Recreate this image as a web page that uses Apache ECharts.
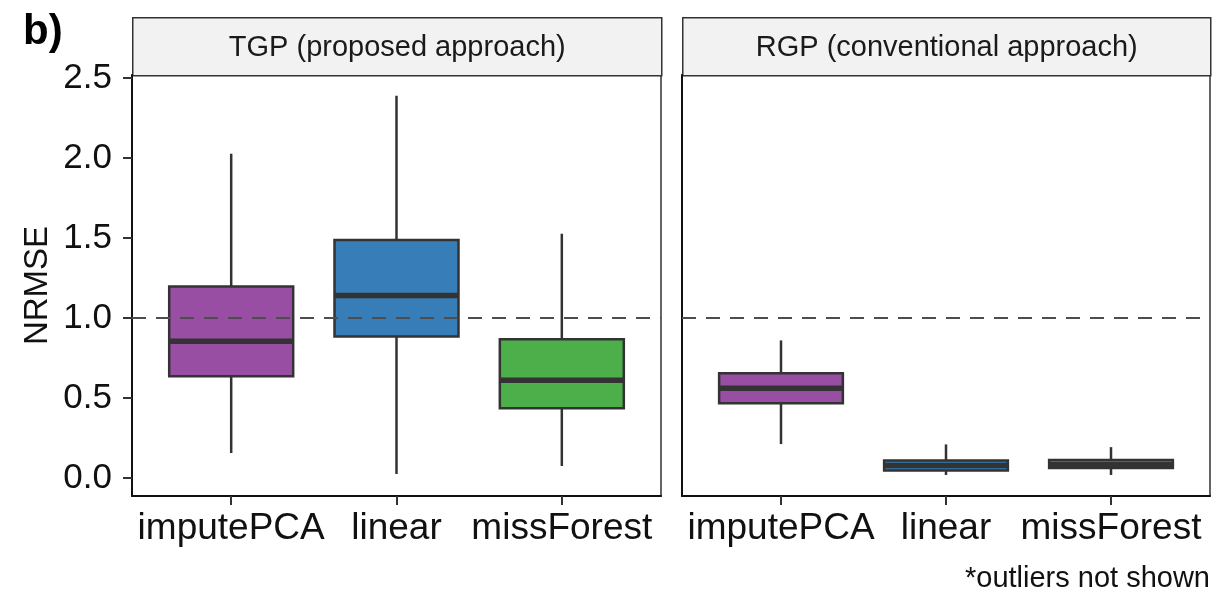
<!DOCTYPE html>
<html>
<head>
<meta charset="utf-8">
<script src="https://cdn.jsdelivr.net/npm/echarts@6/dist/echarts.min.js"></script>
<style>html,body{margin:0;padding:0;background:#fff;}#c{width:1212px;height:592px;}</style>
</head>
<body>
<div id="c"></div>
<script>
const categories = ['imputePCA', 'linear', 'missForest'];
const panelTitles = ['TGP (proposed approach)', 'RGP (conventional approach)'];
const yTicks = [0, 0.5, 1.0, 1.5, 2.0, 2.5];
const referenceLine = 1.0;
const boxColors = ['#984EA3', '#377EB8', '#4DAF4A'];

// TGP panel: whisker low, Q1, median, Q3, whisker high
const tgpLow    = [0.156, 0.025, 0.075];
const tgpQ1     = [0.636, 0.885, 0.436];
const tgpMedian = [0.854, 1.140, 0.611];
const tgpQ3     = [1.197, 1.487, 0.867];
const tgpHigh   = [2.026, 2.390, 1.527];

// RGP panel
const rgpLow    = [0.212, 0.019, 0.019];
const rgpQ1     = [0.468, 0.047, 0.062];
const rgpMedian = [0.561, 0.078, 0.084];
const rgpQ3     = [0.655, 0.109, 0.112];
const rgpHigh   = [0.860, 0.210, 0.193];

function buildData(low, q1, med, q3, high) {
  return categories.map((c, i) => [i + 1, low[i], q1[i], med[i], q3[i], high[i], i]);
}

function renderBox(params, api) {
  const x = api.value(0);
  const pLow = api.coord([x, api.value(1)]);
  const pQ1 = api.coord([x, api.value(2)]);
  const pMed = api.coord([x, api.value(3)]);
  const pQ3 = api.coord([x, api.value(4)]);
  const pHigh = api.coord([x, api.value(5)]);
  const halfW = api.size([0.75, 0])[0] / 2;
  const color = boxColors[api.value(6)];
  const edge = '#333333';
  return {
    type: 'group',
    children: [
      { type: 'line', shape: { x1: pLow[0], y1: pLow[1], x2: pHigh[0], y2: pHigh[1] },
        style: { stroke: edge, lineWidth: 2.5 } },
      { type: 'rect', shape: { x: pQ3[0] - halfW, y: pQ3[1], width: 2 * halfW, height: pQ1[1] - pQ3[1] },
        style: { fill: color, stroke: edge, lineWidth: 2.5 } },
      { type: 'line', shape: { x1: pMed[0] - halfW, y1: pMed[1], x2: pMed[0] + halfW, y2: pMed[1] },
        style: { stroke: edge, lineWidth: 5.5 } }
    ]
  };
}

const textColor = '#111111';
const fontFam = 'Liberation Sans, Arial, sans-serif';

function xAxisCfg(gi) {
  return {
    type: 'value', gridIndex: gi, min: 0.4, max: 3.6,
    splitLine: { show: false },
    axisLine: { show: true, onZero: false, lineStyle: { color: '#111', width: 2 } },
    axisTick: { show: true, customValues: [1, 2, 3], length: 9, lineStyle: { color: '#333', width: 2 } },
    axisLabel: { show: true, customValues: [1, 2, 3], formatter: v => categories[Math.round(v) - 1],
      fontSize: 37, color: textColor, fontFamily: fontFam, margin: 14 }
  };
}
function yAxisCfg(gi, labels) {
  const cfg = {
    type: 'value', gridIndex: gi, min: -0.1125, max: 2.519,
    splitLine: { show: false },
    axisLine: { show: true, onZero: false, lineStyle: { color: '#111', width: 2 } },
    axisTick: { show: labels, customValues: yTicks, length: 9, lineStyle: { color: '#333', width: 2 } },
    axisLabel: { show: labels, customValues: yTicks, formatter: v => v.toFixed(1),
      fontSize: 35, color: textColor, fontFamily: fontFam, margin: 20 }
  };
  if (labels) {
    cfg.name = 'NRMSE';
    cfg.nameLocation = 'middle';
    cfg.nameGap = 78;
    cfg.nameTextStyle = { fontSize: 33, color: textColor, fontFamily: fontFam };
  }
  return cfg;
}

function markLineCfg() {
  return {
    silent: true, symbol: 'none', label: { show: false },
    lineStyle: { color: '#4d4d4d', width: 2, type: [14, 10] },
    data: [{ yAxis: referenceLine }]
  };
}

const grids = [
  { left: 132, top: 75, width: 529, height: 421 },
  { left: 682, top: 75, width: 528, height: 421 }
];

const option = {
  animation: false,
  backgroundColor: '#ffffff',
  grid: grids.map(g => Object.assign({ show: true, borderColor: '#333', borderWidth: 1.5, backgroundColor: '#fff' }, g)),
  xAxis: [xAxisCfg(0), xAxisCfg(1)],
  yAxis: [yAxisCfg(0, true), yAxisCfg(1, false)],
  series: [
    { type: 'custom', xAxisIndex: 0, yAxisIndex: 0, renderItem: renderBox,
      data: buildData(tgpLow, tgpQ1, tgpMedian, tgpQ3, tgpHigh), markLine: markLineCfg(), z: 2 },
    { type: 'custom', xAxisIndex: 1, yAxisIndex: 1, renderItem: renderBox,
      data: buildData(rgpLow, rgpQ1, rgpMedian, rgpQ3, rgpHigh), markLine: markLineCfg(), z: 2 }
  ],
  graphic: [
    ...grids.map((g, i) => ({
      type: 'group', left: g.left, top: 17,
      children: [
        { type: 'rect', shape: { x: 0, y: 0, width: g.width, height: 58 },
          style: { fill: '#f2f2f2', stroke: '#333', lineWidth: 1.5 } },
        { type: 'text', x: g.width / 2, y: 30,
          style: { text: panelTitles[i], fontSize: 29, fill: '#1a1a1a', fontFamily: fontFam,
            align: 'center', verticalAlign: 'middle' } }
      ]
    })),
    { type: 'text', left: 23, top: 11,
      style: { text: 'b)', fontSize: 42, fontWeight: 'bold', fill: '#000', fontFamily: fontFam } },
    { type: 'text', right: 2, top: 564,
      style: { text: '*outliers not shown', fontSize: 29, fill: '#111', fontFamily: fontFam } }
  ]
};

const chart = echarts.init(document.getElementById('c'), null, { renderer: 'canvas' });
chart.setOption(option);
</script>
</body>
</html>
